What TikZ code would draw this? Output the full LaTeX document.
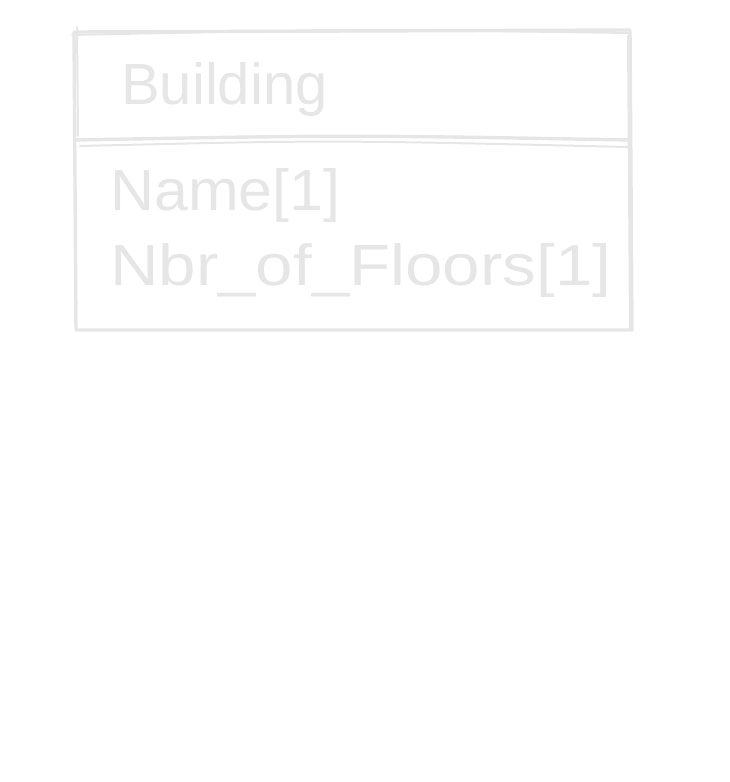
\documentclass[tikz,border=0pt]{standalone}
\usepackage{fontspec}
\setmainfont{Liberation Sans}
\usepackage{tikz}
\usetikzlibrary{calc}
\definecolor{sketchgray}{HTML}{E6E6E6}
\tikzset{rough/.style={draw=sketchgray,line width=3.4pt,line cap=round,line join=round},
         label text/.style={text=sketchgray,anchor=base west,inner sep=0pt,font=\fontsize{58}{62}\selectfont}}

\begin{document}
\begin{tikzpicture}[x=1pt,y=-1pt]
           \useasboundingbox (0,0) rectangle (729,782);
           % outer box, drawn twice for the sketchy look
           \draw[rough] (74,32) -- (630,30) -- (632,330) -- (76,330) -- cycle;
           \draw[rough,line width=2pt] (77,27) -- (78,136);
           \draw[rough,line width=2pt] (72,35) .. controls (350,29) .. (628,33);
           \draw[rough,line width=2pt] (628,36) -- (630,328);
           % divider between name and attributes
           \draw[rough] (75,140) .. controls (350,135) .. (630,140);
           \draw[rough,line width=2pt] (80,146) .. controls (330,140) .. (628,147);
           \node[label text] (title) at (121,104) {Building};
           \node[label text] (name) at (110,210) {\scalebox{1.05}[1]{Name[1]}};
           \node[label text] (floors) at (110,285) {\scalebox{1.16}[1]{Nbr\_of\_Floors[1]}};
        \end{tikzpicture}
\end{document}
